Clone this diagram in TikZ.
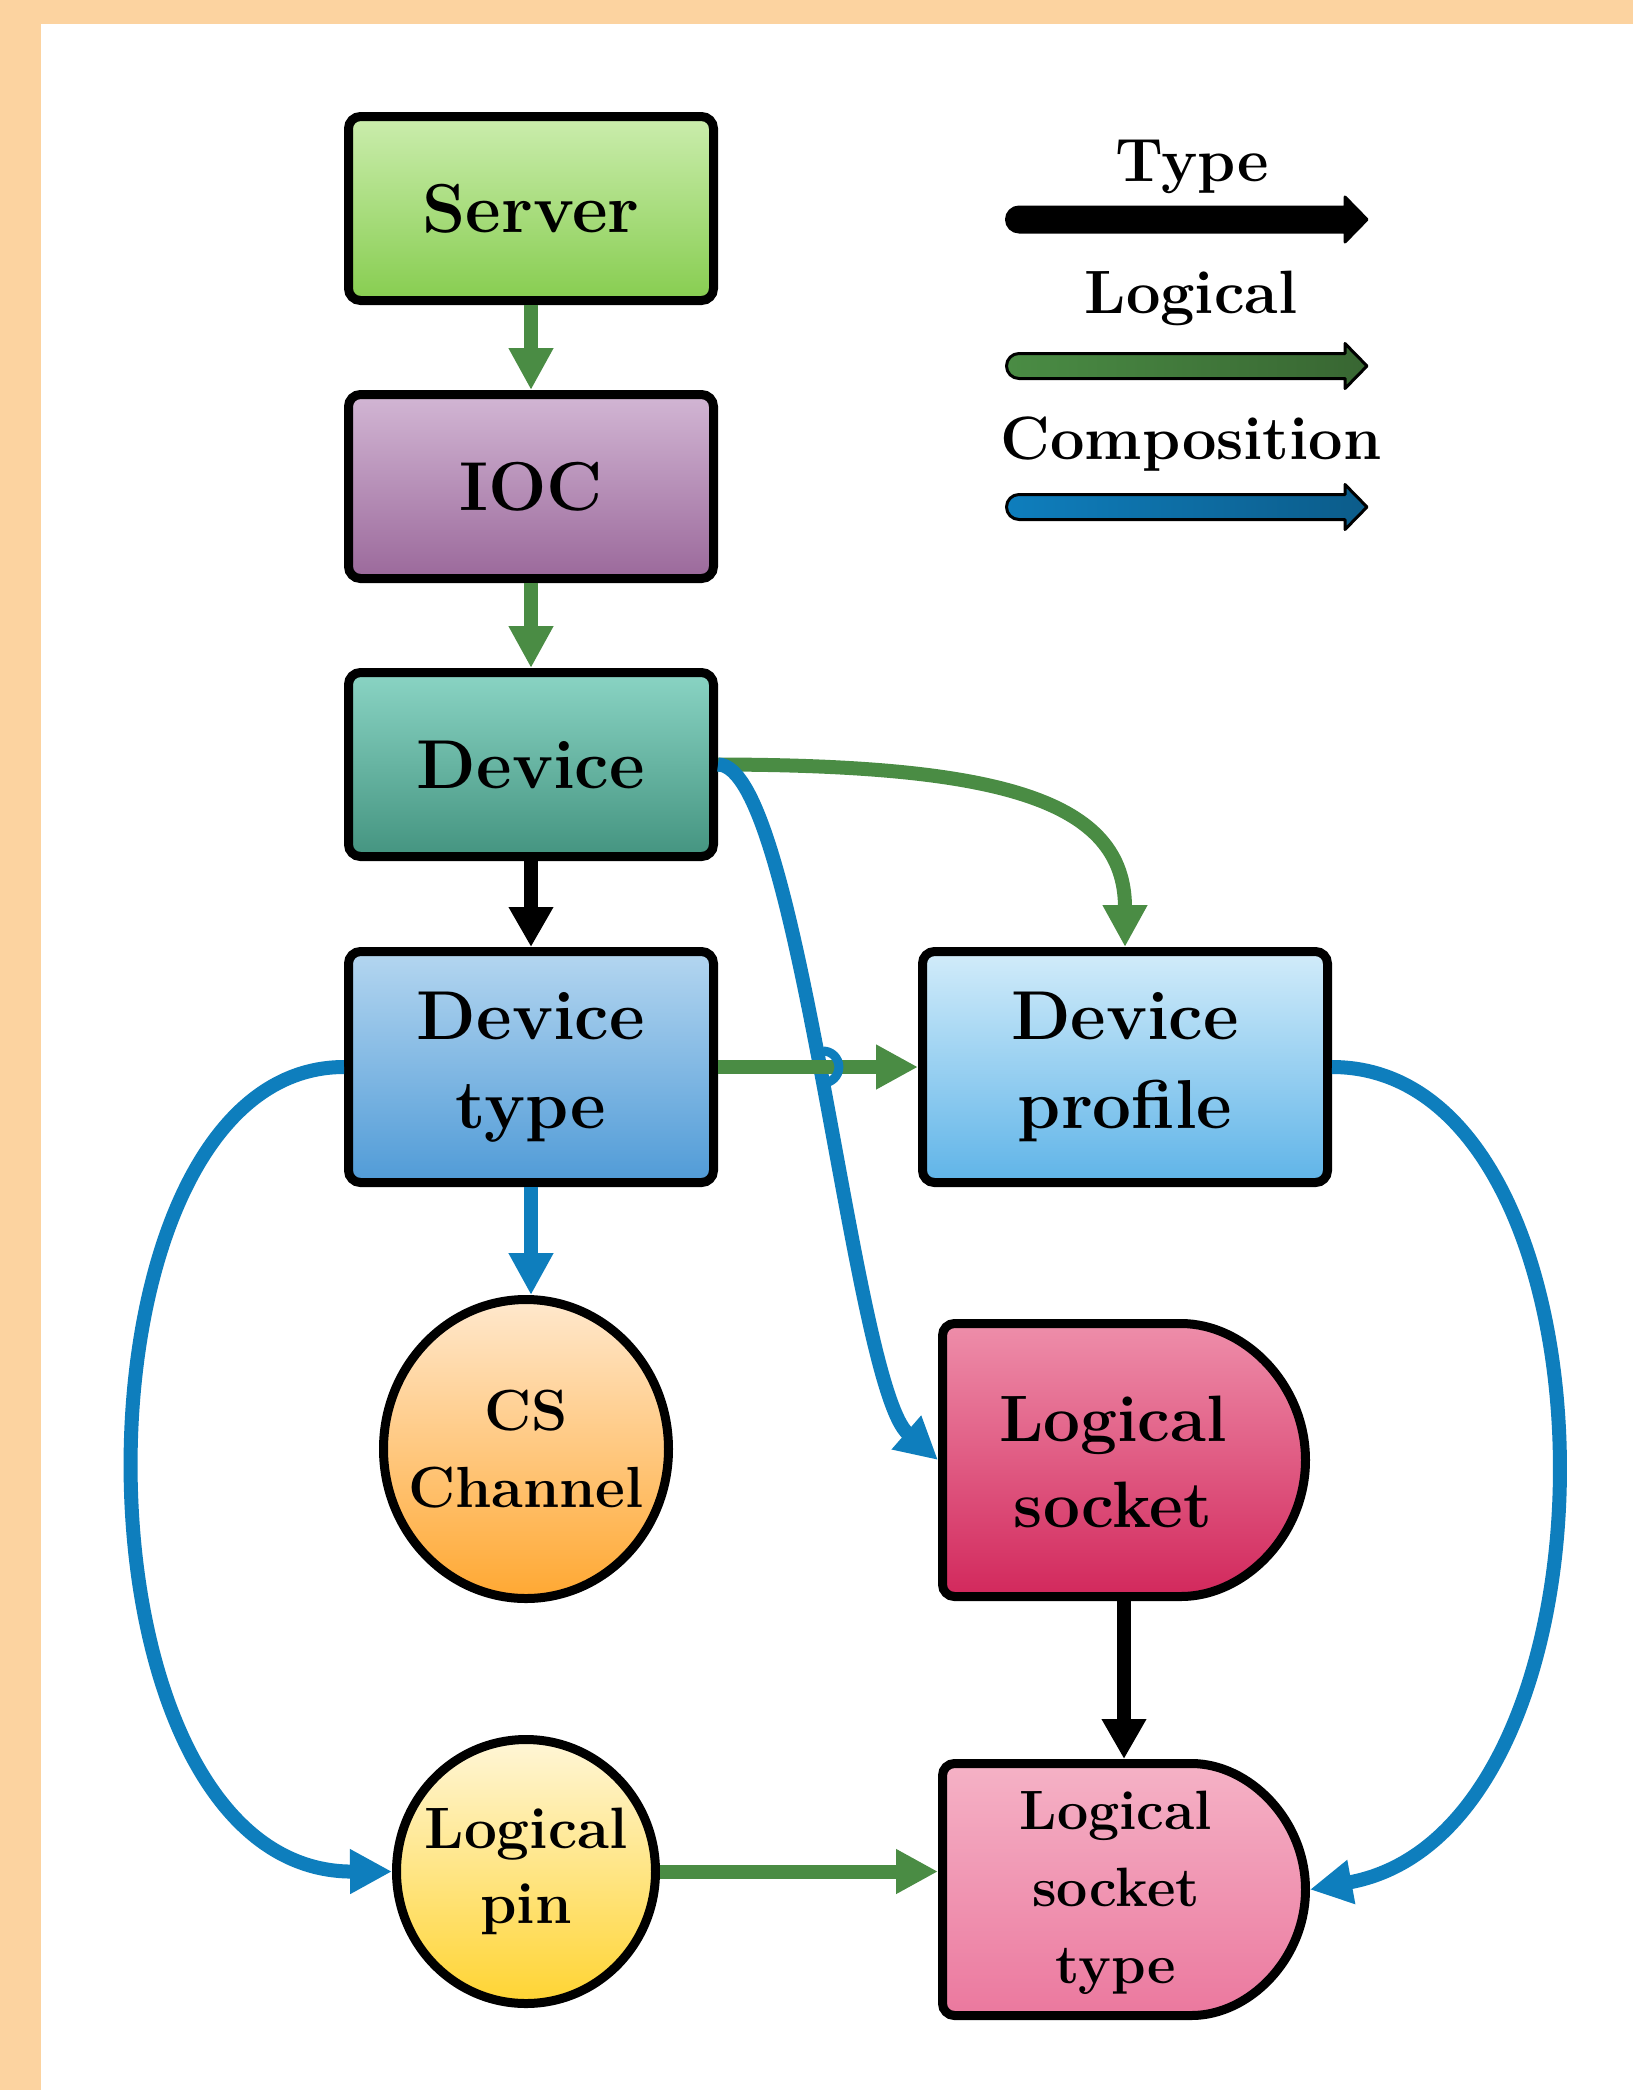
\documentclass[tikz,border=0pt]{standalone}
\usepackage{fontspec}
\usetikzlibrary{arrows.meta,shapes.geometric,shapes.misc,intersections,calc}
\definecolor{bgor}{RGB}{252,211,160}
\definecolor{greenc}{RGB}{74,140,68}
\definecolor{greend}{RGB}{56,102,50}
\definecolor{bluec}{RGB}{14,126,189}
\definecolor{blued}{RGB}{12,92,138}
\definecolor{srvT}{RGB}{203,237,173}\definecolor{srvB}{RGB}{135,205,80}
\definecolor{iocT}{RGB}{210,182,212}\definecolor{iocB}{RGB}{155,105,155}
\definecolor{devT}{RGB}{138,212,196}\definecolor{devB}{RGB}{68,148,128}
\definecolor{dtT}{RGB}{180,214,240}\definecolor{dtB}{RGB}{80,155,215}
\definecolor{dpT}{RGB}{210,236,250}\definecolor{dpB}{RGB}{95,180,232}
\definecolor{csT}{RGB}{255,232,205}\definecolor{csB}{RGB}{255,168,50}
\definecolor{skT}{RGB}{238,142,170}\definecolor{skB}{RGB}{210,40,92}
\definecolor{stT}{RGB}{245,178,198}\definecolor{stB}{RGB}{235,120,158}
\definecolor{pnT}{RGB}{255,246,215}\definecolor{pnB}{RGB}{255,212,50}
\newcommand\FBig{\bfseries\fontsize{34.6}{44.5}\selectfont}
\newcommand\FSock{\bfseries\fontsize{32.8}{43}\selectfont}
\newcommand\FLeg{\bfseries\fontsize{30.6}{36}\selectfont}
\newcommand\FCs{\bfseries\fontsize{29}{38.5}\selectfont}
\newcommand\FPin{\bfseries\fontsize{29.2}{37.5}\selectfont}
\newcommand\FSt{\bfseries\fontsize{27.7}{38.5}\selectfont}
\begin{document}
\begin{tikzpicture}[x=0.5pt,y=-0.5pt,
  box/.style={rectangle, draw=black, line width=4.5pt, rounded corners=6pt, inner sep=0pt,
    align=center, minimum width=182.5pt, minimum height=92pt, font=\FBig},
  ell/.style={ellipse, draw=black, line width=4.5pt, inner sep=0pt},
  sockshape/.style={rounded rectangle, rounded rectangle left arc=none, draw=black,
    line width=4.5pt, inner sep=0pt, minimum width=181.5pt, rounded corners=6pt},
  lbl/.style={align=center, inner sep=0pt},
  logic/.style={draw=greenc, line width=7pt, -{Triangle[length=21pt,width=21pt]}},
  comp/.style={draw=bluec, line width=7pt, -{Triangle[length=21pt,width=21pt]}},
  typ/.style={draw=black, line width=7pt, -{Triangle[length=20pt,width=21pt]}},
  legarrow/.style={draw=black, line width=1.5pt, line join=round}]
\useasboundingbox (0,0) rectangle (1633,2090);
\fill[bgor] (0,0) rectangle (1633,2090);
\fill[white] (41,24) rectangle (1633,2090);

% nodes
\node[box, top color=srvT, bottom color=srvB] (server) at (531,208.5) {Server};
\node[box, top color=iocT, bottom color=iocB] (ioc) at (531,486.5) {IOC};
\node[box, top color=devT, bottom color=devB] (device) at (531,764.5) {Device};
\node[box, minimum height=115.5pt, top color=dtT, bottom color=dtB] (dtype) at (531,1067) {Device\\type};
\node[box, minimum width=202.5pt, minimum height=115.5pt, top color=dpT, bottom color=dpB] (dprof) at (1125,1067) {Device\\profile};
\node[ell, minimum width=142.5pt, minimum height=149.5pt, top color=csT, bottom color=csB] (cs) at (526,1449) {};
\node[lbl, font=\FCs] (cstext) at (cs.center) {CS\\Channel};
\node[ell, minimum width=129.5pt, minimum height=132pt, top color=pnT, bottom color=pnB] (pin) at (526,1871.5) {};
\node[lbl, font=\FPin] (pintext) at (pin.center) {Logical\\pin};
\node[sockshape, minimum height=136.5pt, top color=skT, bottom color=skB] (sock) at (1124,1460) {};
\node[lbl, font=\FSock] (socktext) at (1113,1462) {Logical\\socket};
\node[sockshape, minimum height=126pt, top color=stT, bottom color=stB] (socktype) at (1124,1889.5) {};
\node[lbl, font=\FSt] (socktypetext) at (1116,1893) {Logical\\socket\\type};

% connectors
\draw[logic] (server.south) -- (ioc.north);
\draw[logic] (ioc.south) -- (device.north);
\draw[typ] (device.south) -- (dtype.north);
\draw[logic] (device.east) .. controls (1000,765) and (1125,800) .. (dprof.north);
\draw[comp, name path=bcurve] (device.east) .. controls (800,765) and (852,1385) .. (sock.west);
\draw[logic, name path=gline] (dtype.east) -- (dprof.west);
\path[name intersections={of=bcurve and gline, by=X}];
\draw[bluec, line width=4.5pt] (X) ++(0pt,8pt) arc[start angle=90, end angle=-90, radius=8pt];
\draw[comp] (dtype.south) -- (dtype.south |- cs.north);
\draw[comp] (dtype.west) .. controls (58,1067) and (58,1872) .. (pin.west);
\draw[comp] (dprof.east) .. controls (1628,1067) and (1638,1830) .. (socktype.east);
\draw[typ] (sock.south) -- (socktype.north);
\draw[logic] (pin.east) -- (pin.east -| socktype.west);

% legend
\node[font=\FLeg, anchor=base] (legtype) at (1192,181) {Type};
\node[font=\FLeg, anchor=base] (leglog) at (1191,313) {Logical};
\node[font=\FLeg, anchor=base] (legcomp) at (1191,459) {Composition};
\foreach \c/\lc/\rc in {219.5/black/black, 366/greenc/greend, 507/bluec/blued}{
  \draw[legarrow, left color=\lc, right color=\rc]
    (1345,\c-12.5) -- (1019,\c-12.5) arc[start angle=-90, end angle=-270, radius=12.5]
    -- (1345,\c+12.5) -- (1345,\c+22.5) -- (1367,\c) -- (1345,\c-22.5) -- cycle;
}
\end{tikzpicture}
\end{document}
